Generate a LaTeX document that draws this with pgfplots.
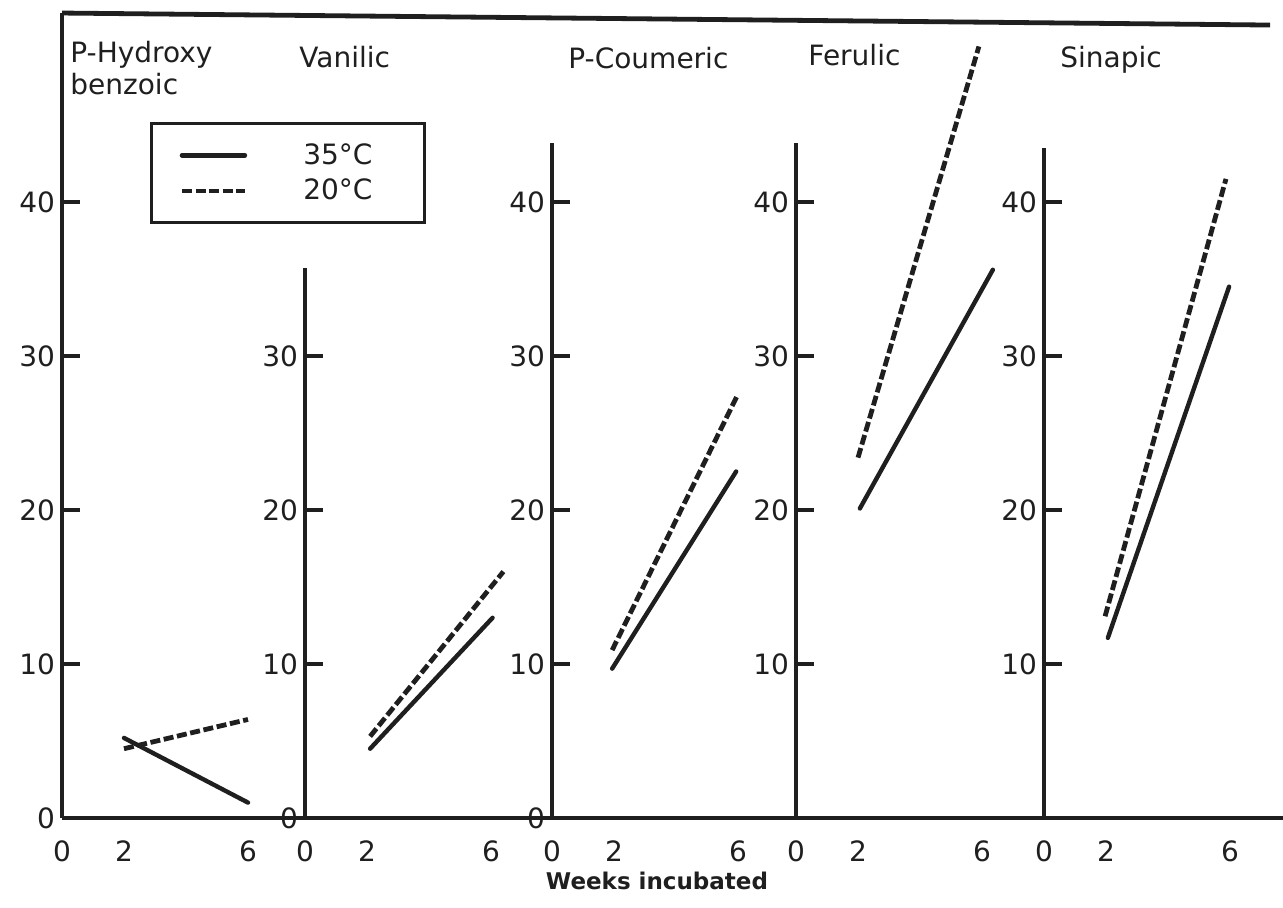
\documentclass[border=0pt]{standalone}
\usepackage{pgfplots}
\pgfplotsset{compat=1.18}
\usepackage{fontspec}
\setmainfont{DejaVu Sans}
\definecolor{ink}{gray}{0.12}
\pgfplotsset{
 panel/.style={
  x=15.5pt, y=7.7pt, xmin=0, ymin=0, enlargelimits=false, clip=false,
  anchor=south west,
  axis x line*=bottom, axis y line*=left,
  axis line style={line width=2pt, -, ink},
  xtick={0,2,6}, xtick style={draw=none},
  ytick style={line width=1.6pt, ink},
  tick align=inside, major tick length=9pt,
  tick label style={font=\fontsize{14}{16}\selectfont, text=ink},
  /pgf/number format/assume math mode=true,
  xticklabel style={yshift=-8pt},
 },
 s35/.style={ink, line width=2.2pt, line cap=round},
 s20/.style={ink, line width=2.4pt, dash pattern=on 5pt off 1.8pt},
}
\begin{document}
\begin{tikzpicture}
\path[use as bounding box] (0,0) rectangle (641.5pt,453.5pt);
% Panel 1: P-Hydroxy benzoic
\begin{axis}[panel, at={(31pt,44.5pt)}, xmax=39.39, ymax=52.27,
  ytick={0,10,20,30,40},
  legend image code/.code={\draw[#1] (0pt,0pt) -- (31.5pt,0pt);},
  legend cell align=left,
  legend style={at={(axis cs:2.84,45.2)}, anchor=north west, draw=ink,
    line width=1.5pt, fill=none, inner xsep=14pt, inner ysep=8pt, row sep=2pt,
    /tikz/every odd column/.append style={column sep=26pt},
    font=\fontsize{14}{16}\selectfont, text=ink}]
\addplot[s35] coordinates {(2,5.2) (6,1.0)};
\addlegendentry{35°C\hspace*{10pt}}
\addplot[s20] coordinates {(2,4.5) (6,6.4)};
\addlegendentry{20°C\hspace*{10pt}}
\addplot[ink, line width=2.4pt, forget plot] coordinates {(0,52.27) (38.97,51.49)};
\end{axis}
% Panel 2: Vanilic
\begin{axis}[panel, at={(152.5pt,44.5pt)}, xmax=7.5, ymax=35.7, ytick={0,10,20,30}]
\addplot[s35] coordinates {(2.1,4.5) (6.05,13.0)};
\addplot[s20] coordinates {(2.1,5.3) (6.4,16.0)};
\end{axis}
% Panel 3: P-Coumeric
\begin{axis}[panel, at={(276pt,44.5pt)}, xmax=7.5, ymax=43.8, ytick={0,10,20,30,40}]
\addplot[s35] coordinates {(1.94,9.7) (5.94,22.5)};
\addplot[s20] coordinates {(1.94,10.9) (5.97,27.4)};
\end{axis}
% Panel 4: Ferulic
\begin{axis}[panel, at={(398pt,44.5pt)}, xmax=7.5, ymax=43.8, ytick={10,20,30,40}]
\addplot[s35] coordinates {(2.06,20.1) (6.35,35.6)};
\addplot[s20] coordinates {(2.0,23.4) (5.9,50.1)};
\end{axis}
% Panel 5: Sinapic
\begin{axis}[panel, at={(522pt,44.5pt)}, xmax=7.7, ymax=43.5, ytick={10,20,30,40}]
\addplot[s35] coordinates {(2.06,11.7) (5.97,34.5)};
\addplot[s20] coordinates {(1.97,13.1) (5.87,41.5)};
\end{axis}
\begin{scope}[every node/.style={anchor=west, inner sep=0pt, text=ink, font=\fontsize{14}{16}\selectfont}]
\node at (35pt,426pt) {P-Hydroxy};
\node at (35pt,411.5pt) {benzoic};
\node at (149.5pt,425pt) {Vanilic};
\node at (284pt,424.5pt) {P-Coumeric};
\node at (404pt,426pt) {Ferulic};
\node at (530pt,423.5pt) {Sinapic};
\end{scope}
\node[text=ink, font=\bfseries\fontsize{11.5}{13}\selectfont] at (328.5pt,13pt) {Weeks incubated};
\end{tikzpicture}
\end{document}
